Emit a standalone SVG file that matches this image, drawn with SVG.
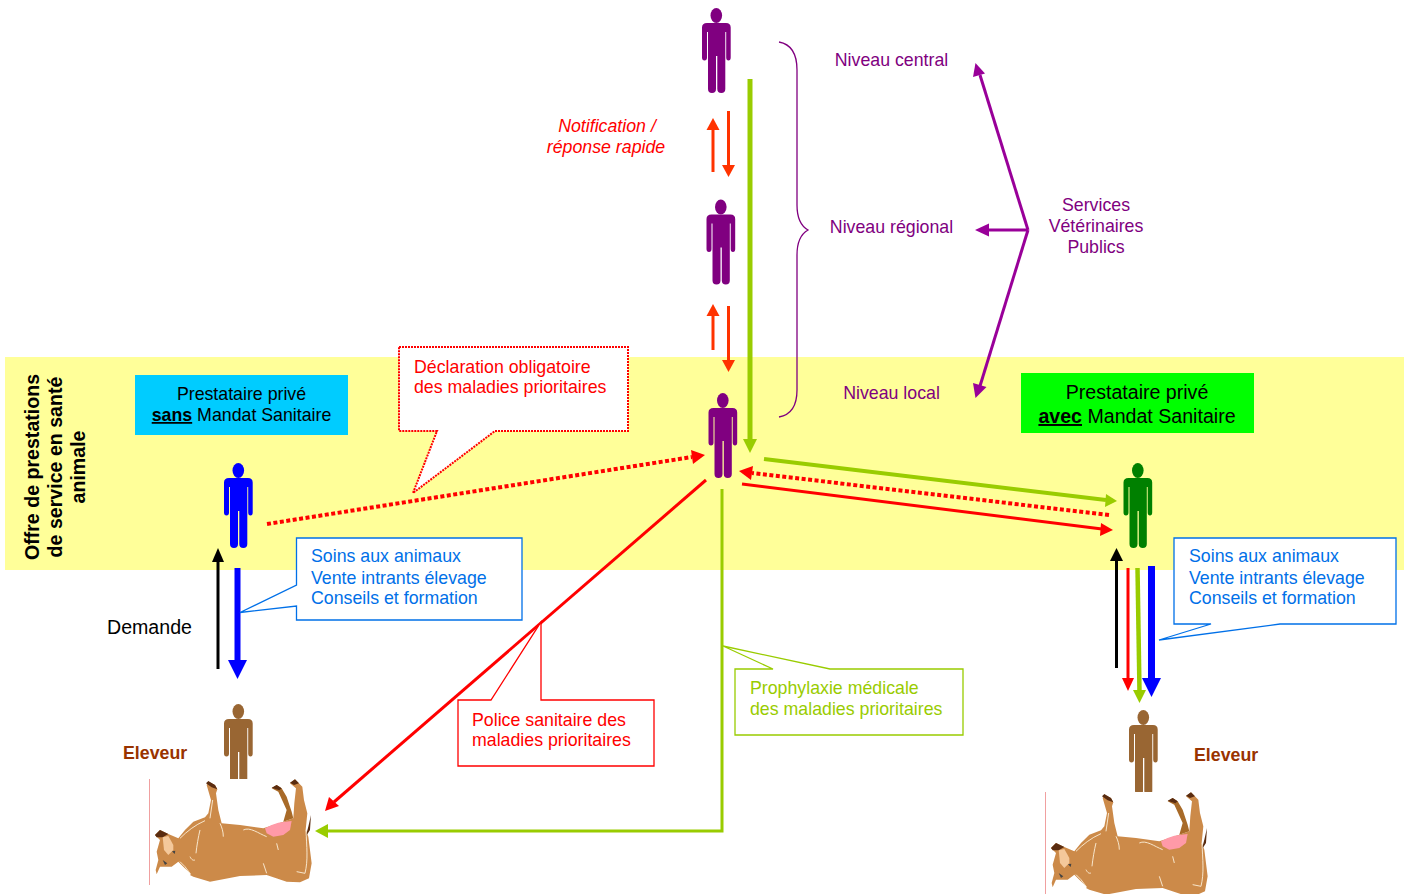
<svg xmlns="http://www.w3.org/2000/svg" width="1409" height="894" viewBox="0 0 1409 894">
<style>
text{font-family:"Liberation Sans",Arial,sans-serif;font-size:17.75px}
.pu{fill:#800080}.re{fill:#ff0000}.bl{fill:#0070e8}.gr{fill:#99cc00}
.b{font-weight:bold}
.c{text-anchor:middle}
.big{font-size:19.6px}
.off{font-size:19.6px;font-weight:bold;text-anchor:middle}
</style>
<defs>
<g id="person">
<ellipse cx="14.300" cy="7.500" rx="5.800" ry="7.500"/>
<path d="M5 15H24Q28.700 15 28.700 19.500V49.500Q28.700 52.500 26.500 52.500Q24.200 52.500 24.200 49.500V24H23.300V81Q23.300 85 19.300 85Q15.300 85 15.300 81V48H14V81Q14 85 10 85Q6 85 6 81V24H5V49.500Q5 52.500 2.500 52.500Q0 52.500 0 49.500V19.500Q0 15 5 15Z"/>
</g>
<g id="cow" transform="scale(.3333)">
<path d="M45 435L60 420L85 432L115 445L135 420L160 395L195 382L205 370L213 330L200 285L205 275L225 285L232 298L228 310L235 360L245 400L300 405L370 415L430 395L460 385L463 340L468 295L450 280L465 268L487 290L492 330L502 370L497 420L505 440L515 520L507 565L480 577L440 575L380 555L300 558L210 575L160 560L150 555L153 552L130 530L115 515L95 530L60 530L50 553L47 540L55 510L50 485L60 450Z" fill="#cc8a49"/>
<path d="M430 395L440 360L415 305L395 295L410 285L425 295L440 320L455 365L460 385Z" fill="#a86a28"/>
<path d="M375 415L395 405L415 398L435 395L455 393L450 420L430 435L400 440L380 430Z" fill="#ff9aa8"/>
<path d="M198 280L205 273L225 285L232 298L215 292ZM395 293L410 285L425 295L418 301ZM450 278L465 268L477 280L462 285ZM45 435L60 420L85 432L68 442L50 442ZM513 375L505 410L497 440L510 420Z" fill="#5a2c10"/>
<path d="M68 442L85 438L100 465L100 480L85 495L72 480Z" fill="#f4c89a"/>
<path d="M68 510L82 520L75 525ZM96 484L106 482L104 492Z" fill="#444"/>
<g fill="none" stroke="#f7e6cc" stroke-width="3">
<path d="M120 445C140 425 165 405 195 392M180 420C175 440 170 470 168 490M250 440C250 425 245 410 240 400M310 420C330 410 355 430 380 440M370 520L380 550M498 420C500 470 505 510 495 550L470 545M150 500C155 510 160 512 165 510M120 515L135 530L150 550M410 460L415 480M210 385L218 330"/>
</g>
</g>
</defs>

<rect x="5" y="357" width="1399" height="213" fill="#ffff99"/>

<g id="connectors">
<path d="M713 172V128" stroke="#ff3300" stroke-width="3" fill="none"/><path d="M706.500 130L713 118L719.500 130Z" fill="#ff3300"/>
<path d="M728.500 111V165" stroke="#ff3300" stroke-width="3" fill="none"/><path d="M722 165L728.500 177L735 165Z" fill="#ff3300"/>
<path d="M713 350V316" stroke="#ff3300" stroke-width="3" fill="none"/><path d="M706.500 316L713 304L719.500 316Z" fill="#ff3300"/>
<path d="M728.500 306V362" stroke="#ff3300" stroke-width="3" fill="none"/><path d="M722 360L728.500 372L735 360Z" fill="#ff3300"/>
<path d="M750 79V442" stroke="#99cc00" stroke-width="5" fill="none"/><path d="M743 439L750 453L757 439Z" fill="#99cc00"/>
<path d="M1028 230L980 75" stroke="#990099" stroke-width="3" fill="none"/><path d="M975.500 63L985 73.500L973 77Z" fill="#990099"/>
<path d="M1028 230H985" stroke="#990099" stroke-width="3" fill="none"/><path d="M989 223.500L975 230L989 236.500Z" fill="#990099"/>
<path d="M1028 230L980 386" stroke="#990099" stroke-width="3" fill="none"/><path d="M975.500 398L986.500 387L973 383Z" fill="#990099"/>
<path d="M267 524L692 457" stroke="#ff0000" stroke-width="4" stroke-dasharray="4 2.500" fill="none"/><path d="M691 450L705 455L693 464Z" fill="#ff0000"/>
<path d="M1109 515L752 473" stroke="#ff0000" stroke-width="4" stroke-dasharray="4 2.500" fill="none"/><path d="M753 466L739 471L751 480Z" fill="#ff0000"/>
<path d="M764 459L1106 500" stroke="#99cc00" stroke-width="4" fill="none"/><path d="M1106 494L1117 501L1105 507Z" fill="#99cc00"/>
<path d="M742 484L1102 529" stroke="#ff0000" stroke-width="3" fill="none"/><path d="M1101 523L1113 530L1100 536Z" fill="#ff0000"/>
<path d="M706 480L334 802" stroke="#ff0000" stroke-width="3" fill="none"/><path d="M329 797L325 811L339 806Z" fill="#ff0000"/>
<path d="M722 489V831H326" stroke="#99cc00" stroke-width="3" fill="none"/><path d="M328 824L315 831L328 838Z" fill="#99cc00"/>
<path d="M218 669V560" stroke="#000" stroke-width="3" fill="none"/><path d="M212 562L218 548L224 562Z" fill="#000"/>
<path d="M237.500 568V662" stroke="#0000ff" stroke-width="6" fill="none"/><path d="M228 660L237.500 679L247 660Z" fill="#0000ff"/>
<path d="M1116.500 668V560" stroke="#000" stroke-width="3" fill="none"/><path d="M1110 561L1116.500 548L1123 561Z" fill="#000"/>
<path d="M1128 568V680" stroke="#ff0000" stroke-width="3" fill="none"/><path d="M1122 678L1128 691L1134 678Z" fill="#ff0000"/>
<path d="M1137.500 568L1139.500 692" stroke="#99cc00" stroke-width="4.500" fill="none"/><path d="M1133 690L1139.500 703L1146 690Z" fill="#99cc00"/>
<path d="M1151.500 566V680" stroke="#0000ff" stroke-width="7" fill="none"/><path d="M1142 678L1151.500 697L1161 678Z" fill="#0000ff"/>
</g>

<g id="brace">
<path d="M779 42C790 44 797 52 797 70V205C797 218 801 226 808 230C801 234 797 242 797 255V390C797 407 790 415 779 417" fill="none" stroke="#800080" stroke-width="1.300"/>
</g>

<g id="node-central" class="pu"><use href="#person" x="702" y="8"/></g>
<g id="node-regional" class="pu"><use href="#person" x="706.500" y="199.500"/></g>
<g id="node-local" class="pu"><use href="#person" x="708.500" y="393"/></g>
<g id="node-prive-sans" fill="#0000ff"><use href="#person" x="224" y="463"/></g>
<g id="node-prive-avec" fill="#008000"><use href="#person" x="1123.500" y="463"/></g>
<g id="node-eleveur-g" fill="#996633"><use href="#person" x="224" y="704"/><rect x="200" y="779" width="70" height="12" fill="#fff"/></g>
<g id="node-eleveur-d" fill="#996633"><use href="#person" x="1129" y="710"/><rect x="1100" y="792" width="70" height="12" fill="#fff"/></g>

<g id="cow-g"><path d="M149.500 779V885" stroke="#f0a0a0" stroke-width="1"/><g transform="translate(140 690)"><use href="#cow"/></g></g>
<g id="cow-d"><path d="M1045.500 792V894" stroke="#f0a0a0" stroke-width="1"/><g transform="translate(1036 703)"><use href="#cow"/></g></g>

<g id="label-central"><text class="c pu" x="891.500" y="66">Niveau central</text></g>
<g id="label-regional"><text class="c pu" x="891.500" y="233">Niveau régional</text></g>
<g id="label-local"><text class="c pu" x="891.500" y="399">Niveau local</text></g>
<g id="label-svp"><text class="c pu" x="1096" y="211">Services</text><text class="c pu" x="1096" y="232">Vétérinaires</text><text class="c pu" x="1096" y="253">Publics</text></g>
<g id="label-notif"><text class="c re" x="607" y="132" font-style="italic">Notification /</text><text class="c re" x="606" y="153" font-style="italic">réponse rapide</text></g>
<g id="label-offre"><text transform="translate(39 467) rotate(-90)" class="off">Offre de prestations</text><text transform="translate(62 467) rotate(-90)" class="off">de service en santé</text><text transform="translate(85 467) rotate(-90)" class="off">animale</text></g>
<g id="label-demande"><text x="107" y="634" class="big">Demande</text></g>
<g id="label-eleveur-g"><text x="123" y="759" class="b" fill="#993300">Eleveur</text></g>
<g id="label-eleveur-d"><text x="1194" y="761" class="b" fill="#993300">Eleveur</text></g>

<g id="box-sans"><rect x="135" y="375" width="213" height="60" fill="#00ccff"/>
<text class="c" x="241.500" y="400">Prestataire privé</text>
<text class="c" x="241.500" y="421"><tspan class="b" text-decoration="underline">sans</tspan> Mandat Sanitaire</text></g>
<g id="box-avec"><rect x="1021" y="373" width="233" height="60" fill="#00ff00"/>
<text class="c big" x="1137" y="399">Prestataire privé</text>
<text class="c big" x="1137" y="423"><tspan class="b" text-decoration="underline">avec</tspan> Mandat Sanitaire</text></g>

<g id="callout-declaration"><path d="M399 347H628V431H495L413 493L437 431H399Z" fill="#fff" stroke="#ff0000" stroke-width="2" stroke-dasharray="2 1"/>
<text class="re" x="414" y="373">Déclaration obligatoire</text><text class="re" x="414" y="393">des maladies prioritaires</text></g>
<g id="callout-soins-g"><path d="M296.500 538H522V620H296.500V606L240 612.500L296.500 585Z" fill="#fff" stroke="#0070e8" stroke-width="1.300"/>
<text class="bl" x="311" y="562">Soins aux animaux</text><text class="bl" x="311" y="584">Vente intrants élevage</text><text class="bl" x="311" y="604">Conseils et formation</text></g>
<g id="callout-soins-d"><path d="M1174 538H1396V624H1280L1159 640L1211 624H1174Z" fill="#fff" stroke="#0070e8" stroke-width="1.300"/>
<text class="bl" x="1189" y="562">Soins aux animaux</text><text class="bl" x="1189" y="584">Vente intrants élevage</text><text class="bl" x="1189" y="604">Conseils et formation</text></g>
<g id="callout-police"><path d="M458 700H491L541 622V700H654V766H458Z" fill="#fff" stroke="#ff0000" stroke-width="1.300"/>
<text class="re" x="472" y="726">Police sanitaire des</text><text class="re" x="472" y="746">maladies prioritaires</text></g>
<g id="callout-prophy"><path d="M735 669H773L723 646L830 669H963V735H735Z" fill="#fff" stroke="#99cc00" stroke-width="1.300"/>
<text class="gr" x="750" y="694">Prophylaxie médicale</text><text class="gr" x="750" y="715">des maladies prioritaires</text></g>
</svg>
